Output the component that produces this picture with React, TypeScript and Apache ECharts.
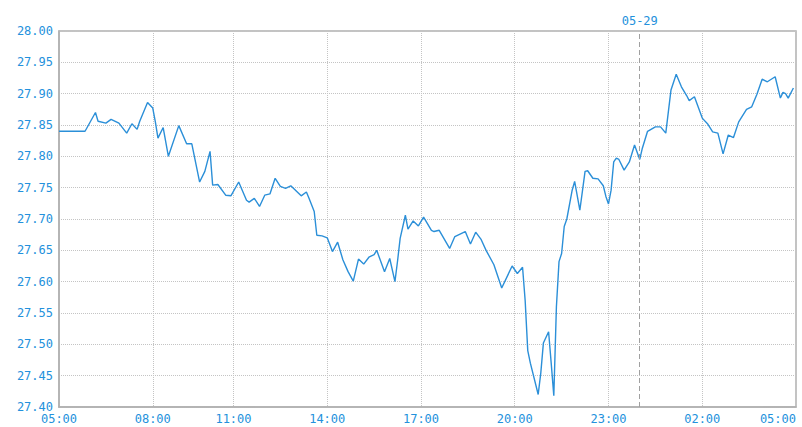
import React, { useEffect, useRef } from "react";
import * as echarts from "echarts";

// Trading sessions that make up the category axis (5-minute slots, a gap 09:30–10:00)
const sessions: [string, string, string][] = [
  ["05-28", "05:00", "09:30"],
  ["05-28", "10:00", "23:55"],
  ["05-29", "00:00", "05:00"],
];

// Tick labels shown on the x axis
const xTicks = [
  "05-28 05:00", "05-28 08:00", "05-28 11:00", "05-28 14:00", "05-28 17:00",
  "05-28 20:00", "05-28 23:00", "05-29 02:00", "05-29 05:00",
];
const dayMark = "05-29 00:00";
const dayLabel = "05-29";

// Price readings (time, price)
const times = [
  "05:00", "05:50", "06:10", "06:15", "06:30", "06:40", "06:55", "07:10", "07:20", "07:30",
  "07:35", "07:50", "08:00", "08:05", "08:10", "08:20", "08:30", "08:50", "09:05", "09:15",
  "09:30", "10:05", "10:15", "10:20", "10:30", "10:45", "10:55", "11:10", "11:25", "11:30",
  "11:40", "11:50", "12:00", "12:10", "12:20", "12:30", "12:40", "12:50", "13:10", "13:20",
  "13:25", "13:35", "13:40", "13:50", "14:00", "14:10", "14:20", "14:30", "14:40", "14:50",
  "15:00", "15:10", "15:20", "15:30", "15:35", "15:50", "16:00", "16:10", "16:15", "16:20",
  "16:30", "16:35", "16:45", "16:55", "17:05", "17:20", "17:25", "17:35", "17:55", "18:05",
  "18:25", "18:35", "18:45", "18:55", "19:05", "19:20", "19:35", "19:55", "20:05", "20:15",
  "20:20", "20:25", "20:30", "20:45", "20:50", "20:55", "21:05", "21:10", "21:15", "21:20",
  "21:25", "21:30", "21:35", "21:40", "21:50", "21:55", "22:05", "22:10", "22:15", "22:20",
  "22:30", "22:40", "22:50", "22:55", "23:00", "23:05", "23:10", "23:15", "23:20", "23:30",
  "23:40", "23:50", "00:00", "00:05", "00:15", "00:30", "00:40", "00:50", "01:00", "01:10",
  "01:20", "01:30", "01:35", "01:45", "02:00", "02:10", "02:20", "02:30", "02:40", "02:50",
  "03:00", "03:10", "03:25", "03:35", "03:45", "03:55", "04:05", "04:20", "04:30", "04:35",
  "04:40", "04:45", "04:55",
];
const prices = [
  27.84, 27.84, 27.87, 27.856, 27.853, 27.859, 27.853, 27.837, 27.852, 27.843,
  27.856, 27.886, 27.877, 27.855, 27.829, 27.846, 27.80, 27.849, 27.82, 27.82,
  27.759, 27.776, 27.808, 27.754, 27.755, 27.738, 27.737, 27.759, 27.730, 27.727,
  27.733, 27.72, 27.738, 27.74, 27.765, 27.752, 27.749, 27.753, 27.737, 27.743,
  27.733, 27.712, 27.674, 27.673, 27.67, 27.648, 27.663, 27.635, 27.616, 27.601,
  27.636, 27.628, 27.639, 27.643, 27.65, 27.616, 27.637, 27.60, 27.633, 27.669,
  27.706, 27.684, 27.697, 27.689, 27.703, 27.682, 27.68, 27.682, 27.653, 27.672,
  27.68, 27.66, 27.679, 27.668, 27.65, 27.627, 27.59, 27.625, 27.613, 27.623,
  27.57, 27.49, 27.47, 27.42, 27.454, 27.502, 27.52, 27.47, 27.418, 27.56,
  27.632, 27.645, 27.688, 27.70, 27.745, 27.76, 27.714, 27.745, 27.776, 27.777,
  27.765, 27.764, 27.753, 27.736, 27.724, 27.746, 27.791, 27.797, 27.795, 27.778,
  27.791, 27.818, 27.795, 27.813, 27.84, 27.847, 27.847, 27.837, 27.906, 27.931,
  27.911, 27.897, 27.889, 27.895, 27.861, 27.852, 27.839, 27.837, 27.804, 27.834,
  27.83, 27.855, 27.875, 27.879, 27.899, 27.923, 27.919, 27.927, 27.893, 27.902,
  27.90, 27.893, 27.909,
];

const yMin = 27.4;
const yMax = 28.0;
const yStep = 0.05;

const BLUE = "#2391dc";
const LINE = "#2b8fd8";
const FONT = "DejaVu Sans Mono";

function toMin(t: string) {
  const [h, m] = t.split(":").map(Number);
  return h * 60 + m;
}
function fmt(min: number) {
  const h = Math.floor(min / 60);
  const m = min % 60;
  return `${String(h).padStart(2, "0")}:${String(m).padStart(2, "0")}`;
}

function buildCategories() {
  const out: string[] = [];
  for (const [day, from, to] of sessions) {
    for (let t = toMin(from); t <= toMin(to); t += 5) out.push(`${day} ${fmt(t)}`);
  }
  return out;
}

function buildSeries() {
  let day = "05-28";
  let prev = -1;
  return times.map((t, i) => {
    const m = toMin(t);
    if (m < prev) day = "05-29";
    prev = m;
    return [`${day} ${t}`, prices[i]];
  });
}

export default function App() {
  const ref = useRef<HTMLDivElement>(null);
  useEffect(() => {
    document.body.style.margin = "0";
    if (!ref.current) return;
    const chart = echarts.init(ref.current, undefined, { renderer: "svg" });
    const cats = buildCategories();
    const tickSet = new Set(xTicks);
    const isTick = (_i: number, v: string) => tickSet.has(v);
    chart.setOption({
      animation: false,
      backgroundColor: "#ffffff",
      grid: {
        left: 59,
        right: 6,
        top: 31,
        bottom: 20,
        show: true,
        borderColor: "#b0b0b0",
        borderWidth: 1.5,
      },
      xAxis: {
        type: "category",
        data: cats,
        boundaryGap: false,
        axisLine: { show: true, lineStyle: { color: "#b0b0b0", width: 1.5 } },
        axisTick: { show: false },
        axisLabel: {
          interval: isTick,
          formatter: (v: string) => v.slice(6),
          color: BLUE,
          fontFamily: FONT,
          fontSize: 12,
          margin: 6,
          alignMaxLabel: "right",
          showMaxLabel: true,
          showMinLabel: true,
        },
        splitLine: {
          show: true,
          interval: isTick,
          lineStyle: { color: "#c4c4c4", type: [1, 1], width: 1 },
        },
      },
      yAxis: {
        type: "value",
        min: yMin,
        max: yMax,
        interval: yStep,
        axisLine: { show: true, lineStyle: { color: "#b0b0b0", width: 1.5 } },
        axisTick: { show: false },
        axisLabel: {
          formatter: (v: number) => v.toFixed(2),
          color: BLUE,
          fontFamily: FONT,
          fontSize: 12,
          margin: 6,
        },
        splitLine: {
          show: true,
          lineStyle: { color: "#c4c4c4", type: [1, 1], width: 1 },
        },
      },
      series: [
        {
          type: "line",
          data: buildSeries(),
          showSymbol: false,
          symbol: "none",
          lineStyle: { color: LINE, width: 1.4 },
          markLine: {
            silent: true,
            symbol: "none",
            lineStyle: { color: "#a0a0a0", type: [5, 3], width: 1 },
            label: {
              show: true,
              position: "end",
              formatter: dayLabel,
              color: BLUE,
              fontFamily: FONT,
              fontSize: 12,
              distance: 4,
            },
            data: [{ xAxis: dayMark }],
          },
        },
      ],
    });
    return () => chart.dispose();
  }, []);
  return <div ref={ref} style={{ width: 802, height: 427 }} />;
}
